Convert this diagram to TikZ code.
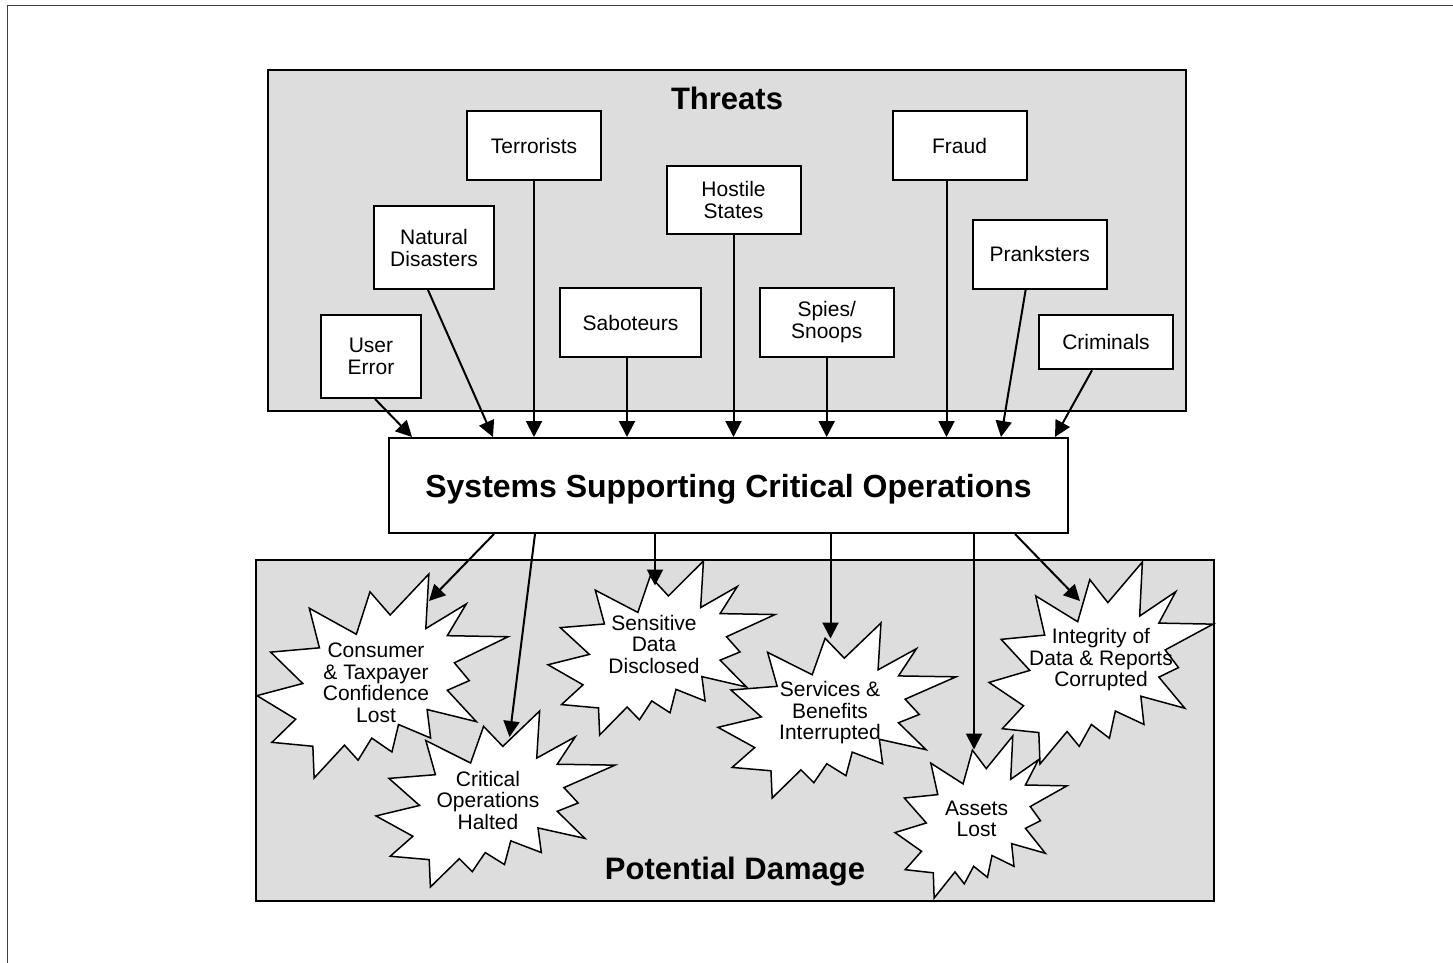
\documentclass[tikz,border=0pt]{standalone}
\usepackage{fontspec}
\setmainfont{Liberation Sans}
\definecolor{panelgray}{RGB}{221,221,221}
\usetikzlibrary{arrows.meta}

\begin{document}
\begin{tikzpicture}[x=1pt, y=-1pt]
  \tikzset{
    edgeline/.style = {draw=black!75, line width=1pt},
    panel/.style = {draw, line width=2pt, fill=panelgray, inner sep=0pt},
    threat/.style = {draw, line width=2pt, fill=white, inner sep=0pt, align=center,
      minimum width=134pt, minimum height=68.5pt, font=\fontsize{21}{22}\selectfont},
    sysbox/.style = {draw, line width=2pt, fill=white, inner sep=0pt, text depth=0pt,
      minimum width=679pt, minimum height=95pt, font=\bfseries\fontsize{32}{36}\selectfont},
    heading/.style = {font=\bfseries\fontsize{31}{34}\selectfont},
    dmglabel/.style = {align=center, inner sep=0pt, font=\fontsize{21}{21.5}\selectfont},
    link/.style = {line width=2pt, -{Triangle[length=16pt,width=16pt]}},
    burst/.pic = {
      \filldraw[fill=white, line width=1.5pt]
        (0.5306,0.2010) -- (0.6847,0) -- (0.6725,0.2675) -- (0.8337,0.1469) --
        (0.7583,0.3024) -- (1,0.3076) -- (0.7863,0.4353) -- (0.8458,0.5227) --
        (0.7583,0.5699) -- (0.8739,0.7237) -- (0.6778,0.6644) -- (0.6918,0.8042) --
        (0.5639,0.7377) -- (0.5376,0.8723) -- (0.4570,0.8042) -- (0.4028,0.9126) --
        (0.3485,0.8391) -- (0.2276,1) -- (0.2225,0.8444) -- (0.0595,0.8252) --
        (0.1542,0.7116) -- (0,0.5962) -- (0.1822,0.5367) -- (0.0543,0.3829) --
        (0.2487,0.3619) -- (0.2084,0.1678) -- (0.3958,0.2955) -- (0.4501,0.0874) -- cycle;
    }
  }

  \useasboundingbox (0,0) rectangle (1453,963);
  \draw[edgeline] (7,963) -- (7,6) -- (1453,6);

  % threats
  \node[panel, minimum width=918pt, minimum height=341pt] (threats) at (727,240.5) {};
  \node[heading] (tt) at (727,98.5) {Threats};

  \node[threat, minimum width=100pt, minimum height=83pt] (user) at (371,356.5) {User\\Error};
  \node[threat, minimum width=120.5pt, minimum height=83pt] (nat) at (434,247.5) {Natural\\Disasters};
  \node[threat] (terr) at (534,145.5) {Terrorists};
  \node[threat, minimum width=140.5pt] (sab) at (630.5,322.5) {Saboteurs};
  \node[threat] (host) at (733.5,200) {Hostile\\States};
  \node[threat] (spy) at (826.7,322.5) {Spies/\\Snoops};
  \node[threat] (fraud) at (959.5,145.5) {Fraud};
  \node[threat] (prank) at (1039.7,254.3) {Pranksters};
  \node[threat, minimum height=54pt] (crim) at (1106,342.3) {Criminals};

  \node[sysbox] (sys) at (728.5,485.5) {Systems Supporting Critical Operations};

  % potential damage
  \node[panel, minimum width=958pt, minimum height=341pt] (damage) at (735,730.5) {};
  \node[heading] (dt) at (735,872) {Potential Damage};

  \path (257,574) pic[x=251pt, y=-204pt] {burst};
  \path (376,711) pic[x=239pt, y=-176pt] {burst};
  \path (548,561) pic[x=227pt, y=-174pt] {burst};
  \path (718,623) pic[x=238pt, y=-175pt] {burst};
  \path (989,562) pic[x=224pt, y=-202pt] {burst};
  \path (895,736) pic[x=172pt, y=-162pt] {burst};

  \node[dmglabel] (d1) at (376,683) {Consumer\\\& Taxpayer\\Confidence\\Lost};
  \node[dmglabel] (d2) at (488,800) {Critical\\Operations\\Halted};
  \node[dmglabel] (d3) at (654,644) {Sensitive\\Data\\Disclosed};
  \node[dmglabel] (d4) at (830,713) {Services \&\\Benefits\\Interrupted};
  \node[dmglabel] (d5) at (1101,660) {Integrity of\\Data \& Reports\\Corrupted};
  \node[dmglabel] (d6) at (976.5,819) {Assets\\Lost};

  \coordinate (h1) at (429,601);
  \coordinate (h2) at (509.5,737);
  \coordinate (h3) at (655,585.5);
  \coordinate (h4) at (830.5,638.5);
  \coordinate (h5) at (1080,601);
  \coordinate (h6) at (974,749.5);

  % threats into the systems
  \draw[link] ([xshift=4pt]user.south) -- ([xshift=-316.5pt]sys.north);
  \draw[link] ([xshift=-6pt]nat.south) -- ([xshift=-235.5pt]sys.north);
  \draw[link] (terr.south) -- (terr.south |- sys.north);
  \draw[link] ([xshift=-3.5pt]sab.south) -- ([xshift=-3.5pt]sab.south |- sys.north);
  \draw[link] (host.south) -- (host.south |- sys.north);
  \draw[link] (spy.south) -- (spy.south |- sys.north);
  \draw[link] ([xshift=-13pt]fraud.south) -- ([xshift=-13pt]fraud.south |- sys.north);
  \draw[link] ([xshift=-14pt]prank.south) -- ([xshift=272.5pt]sys.north);
  \draw[link] ([xshift=-14pt]crim.south) -- ([xshift=326.5pt]sys.north);

  % systems into the damage
  \draw[link] ([xshift=-234.5pt]sys.south) -- (h1);
  \draw[link] ([xshift=-193.5pt]sys.south) -- (h2);
  \draw[link] (sys.south -| h3) -- (h3);
  \draw[link] (sys.south -| h4) -- (h4);
  \draw[link] ([xshift=286.5pt]sys.south) -- (h5);
  \draw[link] (sys.south -| h6) -- (h6);
\end{tikzpicture}
\end{document}
